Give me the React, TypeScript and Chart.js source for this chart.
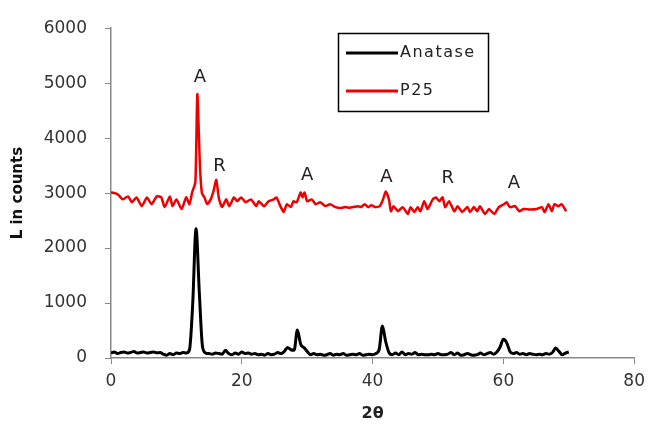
import React, { useEffect, useRef } from 'react';
import { Chart, registerables } from 'chart.js';

Chart.register(...registerables);

// Anatase pattern (2θ step 0.5)
const anataseX = [
  0, 0.5, 1, 1.5, 2, 2.5, 3, 3.5, 4, 4.5, 5, 5.5, 6, 6.5, 7, 7.5, 8, 8.5, 9, 9.5,
  10, 10.5, 11, 11.5, 12, 12.5, 13, 13.5, 14, 14.5, 15, 15.5, 16, 16.5, 17, 17.5, 18, 18.5, 19, 19.5,
  20, 20.5, 21, 21.5, 22, 22.5, 23, 23.5, 24, 24.5, 25, 25.5, 26, 26.5, 27, 27.5, 28, 28.5, 29, 29.5,
  30, 30.5, 31, 31.5, 32, 32.5, 33, 33.5, 34, 34.5, 35, 35.5, 36, 36.5, 37, 37.5, 38, 38.5, 39, 39.5,
  40, 40.5, 41, 41.5, 42, 42.5, 43, 43.5, 44, 44.5, 45, 45.5, 46, 46.5, 47, 47.5, 48, 48.5, 49, 49.5,
  50, 50.5, 51, 51.5, 52, 52.5, 53, 53.5, 54, 54.5, 55, 55.5, 56, 56.5, 57, 57.5, 58, 58.5, 59, 59.5,
  60, 60.5, 61, 61.5, 62, 62.5, 63, 63.5, 64, 64.5, 65, 65.5, 66, 66.5, 67, 67.5, 68, 68.5, 69, 69.5,
  70,
];

const anataseY = [
  90, 110, 80, 100, 110, 90, 100, 120, 90, 100, 110, 90, 100, 110, 95, 100, 70, 50, 80, 60,
  90, 80, 100, 90, 150, 1000, 2350, 1200, 200, 90, 80, 70, 90, 80, 70, 140, 80, 60, 90, 70,
  110, 80, 90, 70, 80, 60, 70, 50, 80, 60, 70, 100, 80, 120, 190, 150, 140, 510, 250, 190,
  120, 60, 80, 60, 70, 50, 60, 80, 50, 70, 60, 80, 50, 60, 70, 60, 80, 50, 60, 70,
  60, 80, 150, 580, 300, 100, 60, 90, 60, 110, 60, 80, 70, 100, 60, 70, 60, 60, 70, 60,
  80, 60, 60, 70, 100, 60, 90, 50, 60, 80, 60, 50, 60, 90, 60, 80, 100, 70, 110, 200,
  340, 280, 120, 80, 100, 70, 80, 60, 80, 70, 60, 70, 60, 80, 70, 100, 180, 120, 60, 90,
  110,
];

// P25 pattern (2θ positions of the traced turning points)
const p25X = [
  0, 0.15, 1.06, 1.8, 2.6, 3.2, 3.9, 4.7, 5.5, 6.2, 7.0, 7.7, 8.2, 9.0, 9.4, 10.0, 10.8, 11.5, 12.0, 12.4,
  12.9, 13.2, 13.6, 13.9, 14.3, 14.7, 15.3, 15.7, 16.1, 16.5, 17.0, 17.6, 18.1, 18.8, 19.3, 19.9, 20.6, 21.4, 22.2, 22.6,
  23.4, 24.1, 24.9, 25.3, 25.9, 26.4, 26.9, 27.5, 27.9, 28.4, 29.0, 29.3, 29.6, 30.0, 30.7, 31.3, 32.0, 32.8, 33.5, 34.3,
  35.2, 35.8, 36.5, 37.0, 37.8, 38.2, 38.8, 39.3, 39.8, 40.4, 41.1, 41.6, 42.0, 42.5, 42.8, 43.2, 43.9, 44.6, 45.4, 45.8,
  46.4, 46.9, 47.3, 47.9, 48.4, 49.2, 49.7, 50.2, 50.7, 51.1, 51.7, 52.5, 53.0, 53.7, 54.5, 54.9, 55.5, 56.0, 56.4, 57.2,
  57.8, 58.6, 59.3, 60.1, 60.5, 61.0, 61.8, 62.4, 63.1, 64.1, 65.1, 65.9, 66.3, 66.9, 67.4, 67.8, 68.4, 68.9, 69.6,
];

const p25Y = [
  3000, 3010, 2975, 2886, 2940, 2833, 2922, 2763, 2922, 2798, 2940, 2922, 2745, 2940, 2763, 2886, 2709, 2922, 2798, 3010,
  3200, 4800, 3500, 3000, 2920, 2800, 2900, 3050, 3240, 2900, 2745, 2886, 2763, 2922, 2851, 2922, 2833, 2886, 2763, 2851,
  2763, 2851, 2886, 2922, 2763, 2656, 2798, 2745, 2851, 2833, 3010, 2922, 3010, 2851, 2886, 2798, 2833, 2763, 2798, 2745,
  2730, 2745, 2735, 2745, 2763, 2745, 2798, 2745, 2780, 2745, 2763, 2886, 3030, 2886, 2670, 2763, 2670, 2745, 2620, 2745,
  2656, 2745, 2670, 2851, 2709, 2886, 2922, 2851, 2922, 2745, 2851, 2670, 2763, 2656, 2745, 2656, 2745, 2670, 2763, 2620,
  2709, 2620, 2745, 2798, 2833, 2745, 2763, 2670, 2709, 2700, 2709, 2745, 2656, 2798, 2670, 2798, 2763, 2798, 2670,
];

const seriesNames = ['Anatase', 'P25'];
const seriesColors = ['#000000', '#ee0000'];

const peakText = ['A', 'R', 'A', 'A', 'R', 'A'];
const peakAt = [13.6, 16.6, 30.0, 42.1, 51.5, 61.6];
const peakLevel = [5100, 3480, 3320, 3290, 3260, 3170];

const xTicks = [0, 20, 40, 60, 80];
const yTicks = [0, 1000, 2000, 3000, 4000, 5000, 6000];

const FONT = "'DejaVu Sans', Verdana, sans-serif";

const peakLabelPlugin = {
  id: 'peakLabels',
  afterDatasetsDraw(chart: any) {
    const { ctx, scales } = chart;
    ctx.save();
    ctx.fillStyle = '#222';
    ctx.font = `18px ${FONT}`;
    ctx.textAlign = 'center';
    ctx.textBaseline = 'middle';
    peakText.forEach((t, i) => {
      ctx.fillText(t, scales.x.getPixelForValue(peakAt[i]), scales.y.getPixelForValue(peakLevel[i]));
    });
    ctx.restore();
  },
};

const boxLegendPlugin = {
  id: 'boxLegend',
  afterDraw(chart: any) {
    const { ctx } = chart;
    const x0 = 338, y0 = 33, w = 150, h = 78;
    ctx.save();
    ctx.fillStyle = '#fff';
    ctx.fillRect(x0, y0, w, h);
    ctx.strokeStyle = '#000';
    ctx.lineWidth = 1.5;
    ctx.strokeRect(x0 + 0.5, y0 + 0.5, w, h);
    ctx.font = `16px ${FONT}`;
    ctx.textBaseline = 'middle';
    ctx.textAlign = 'left';
    try { (ctx as any).letterSpacing = '1.5px'; } catch (e) { /* ignore */ }
    chart.data.datasets.forEach((ds: any, i: number) => {
      const yy = y0 + 20 + i * 38;
      ctx.strokeStyle = ds.borderColor;
      ctx.lineWidth = 3;
      ctx.beginPath();
      ctx.moveTo(x0 + 8, yy);
      ctx.lineTo(x0 + 60, yy);
      ctx.stroke();
      ctx.fillStyle = '#222';
      ctx.fillText(ds.label, x0 + 62, yy);
    });
    ctx.restore();
  },
};

export default function App() {
  const ref = useRef<HTMLCanvasElement | null>(null);

  useEffect(() => {
    if (!ref.current) return;
    const chart = new Chart(ref.current, {
      type: 'line',
      data: {
        datasets: [
          {
            label: seriesNames[0],
            data: anataseX.map((x, i) => ({ x, y: anataseY[i] })),
            borderColor: seriesColors[0],
            backgroundColor: seriesColors[0],
            borderWidth: 3,
            pointRadius: 0,
            cubicInterpolationMode: 'monotone' as const,
            fill: false,
          },
          {
            label: seriesNames[1],
            data: p25X.map((x, i) => ({ x, y: p25Y[i] })),
            borderColor: seriesColors[1],
            backgroundColor: seriesColors[1],
            borderWidth: 2.5,
            pointRadius: 0,
            tension: 0.2,
            fill: false,
          },
        ],
      },
      options: {
        responsive: false,
        animation: false,
        layout: { padding: { top: 19, right: 14, left: 0, bottom: 0 } },
        plugins: {
          legend: { display: false },
          tooltip: { enabled: false },
        },
        scales: {
          x: {
            type: 'linear',
            min: 0,
            max: 80,
            afterFit: (s: any) => { s.height = 68; },
            afterBuildTicks: (s: any) => { s.ticks = xTicks.map((v) => ({ value: v })); },
            ticks: {
              color: '#333',
              font: { family: FONT, size: 17 },
              padding: 7,
              callback: (v: any) => String(v),
            },
            grid: { drawOnChartArea: false, drawTicks: true, tickLength: 6, color: '#888' },
            border: { color: '#888', width: 1.5 },
            title: {
              display: true,
              text: '2θ',
              color: '#222',
              font: { family: FONT, size: 16, weight: 'bold' },
              padding: { top: 0, bottom: 3 },
            },
          },
          y: {
            min: 0,
            max: 6000,
            afterFit: (s: any) => { s.width = 111; },
            afterBuildTicks: (s: any) => { s.ticks = yTicks.map((v) => ({ value: v })); },
            ticks: {
              color: '#333',
              font: { family: FONT, size: 17 },
              padding: 18,
              callback: (v: any) => String(v),
            },
            grid: { drawOnChartArea: false, drawTicks: true, tickLength: 6, color: '#888' },
            border: { color: '#888', width: 1.5 },
            title: {
              display: true,
              text: 'L in counts',
              color: '#111',
              font: { family: FONT, size: 15, weight: 'bold' },
              padding: { top: 9, bottom: 0 },
            },
          },
        },
      },
      plugins: [peakLabelPlugin, boxLegendPlugin],
    });
    return () => chart.destroy();
  }, []);

  return (
    <canvas
      ref={ref}
      width={652}
      height={426}
      style={{ position: 'absolute', left: 0, top: 0, width: 652, height: 426, background: '#fff' }}
    />
  );
}
